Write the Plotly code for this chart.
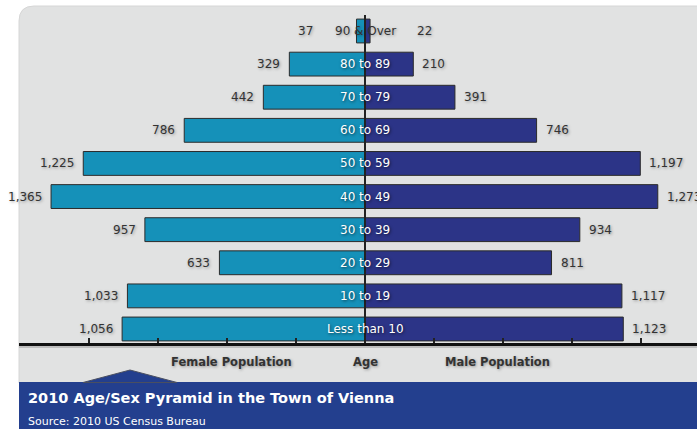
import plotly.graph_objects as go

# ---- data ----
age_groups = ["Less than 10", "10 to 19", "20 to 29", "30 to 39", "40 to 49",
              "50 to 59", "60 to 69", "70 to 79", "80 to 89", "90 & Over"]
female_pop = [1056, 1033, 633, 957, 1365, 1225, 786, 442, 329, 37]
male_pop = [1123, 1117, 811, 934, 1273, 1197, 746, 391, 210, 22]
tick_values = [-1200, -900, -600, -300, 300, 600, 900, 1200]

title_text = "2010 Age/Sex Pyramid in the Town of Vienna"
source_text = "Source: 2010 US Census Bureau"

W, H = 697, 429
FONT = "DejaVu Sans"
FEMALE_COLOR = "#1591B9"
MALE_COLOR = "#2C3487"
BAND_COLOR = "#233F8E"
PANEL_COLOR = "#E1E2E2"
TEXT_COLOR = "#333333"
SHADOW = "1px 1px 3px rgba(0,0,0,0.35)"
MIN_LABEL_OFFSET = 185  # value labels never sit closer to the centre than this (people)


def px(x):
    return x / W


def py(y):
    return 1 - y / H


fig = go.Figure()
fig.add_trace(go.Bar(
    y=age_groups, x=[-v for v in female_pop], orientation="h",
    marker=dict(color=FEMALE_COLOR, line=dict(color="#2b2b2b", width=1)),
    width=0.72, hoverinfo="skip", name="Female Population"))
fig.add_trace(go.Bar(
    y=age_groups, x=male_pop, orientation="h",
    marker=dict(color=MALE_COLOR, line=dict(color="#2b2b2b", width=1)),
    width=0.72, hoverinfo="skip", name="Male Population"))

annotations = []
for g, f, m in zip(age_groups, female_pop, male_pop):
    annotations.append(dict(x=-max(f, MIN_LABEL_OFFSET), y=g, xref="x", yref="y", text=f"{f:,}",
                            showarrow=False, xanchor="right", xshift=-7,
                            font=dict(family=FONT, size=12, color=TEXT_COLOR, shadow=SHADOW)))
    annotations.append(dict(x=max(m, MIN_LABEL_OFFSET), y=g, xref="x", yref="y", text=f"{m:,}",
                            showarrow=False, xanchor="left", xshift=7,
                            font=dict(family=FONT, size=12, color=TEXT_COLOR, shadow=SHADOW)))
    dark = g == "90 & Over"
    annotations.append(dict(x=0, y=g, xref="x", yref="y", text=g, showarrow=False,
                            xanchor="center",
                            font=dict(family=FONT, size=12,
                                      color=TEXT_COLOR if dark else "white",
                                      shadow=SHADOW if dark else "1px 1px 3px rgba(0,0,0,0.6)")))

# axis titles
for x, t in [(232, "Female Population"), (365, "Age"), (497, "Male Population")]:
    annotations.append(dict(x=px(x), y=py(362), xref="paper", yref="paper", text=f"<b>{t}</b>",
                            showarrow=False, xanchor="center", yanchor="middle",
                            font=dict(family=FONT, size=11.5, color=TEXT_COLOR, shadow=SHADOW)))

annotations.append(dict(x=px(26), y=py(398), xref="paper", yref="paper", text=f"<b>{title_text}</b>",
                        showarrow=False, xanchor="left", yanchor="middle",
                        font=dict(family=FONT, size=14.5, color="white")))
annotations.append(dict(x=px(26), y=py(421), xref="paper", yref="paper", text=source_text,
                        showarrow=False, xanchor="left", yanchor="middle",
                        font=dict(family=FONT, size=11, color="white")))

# panel with rounded top-left corner
r = 15
x0, x1, y0, y1 = 19, 700, 6, 383
panel_path = (f"M {px(x0)},{py(y1)} L {px(x0)},{py(y0 + r)} "
              f"Q {px(x0)},{py(y0)} {px(x0 + r)},{py(y0)} "
              f"L {px(x1)},{py(y0)} L {px(x1)},{py(y1)} Z")
shapes = [
    dict(type="path", path=panel_path, xref="paper", yref="paper",
         fillcolor=PANEL_COLOR, line=dict(color="#d6d6d6", width=1), layer="below"),
    dict(type="rect", xref="paper", yref="paper", x0=px(19), x1=1, y0=0, y1=py(382),
         fillcolor=BAND_COLOR, line=dict(width=0), layer="below"),
    dict(type="path", xref="paper", yref="paper",
         path=f"M {px(83)},{py(382.5)} L {px(130)},{py(370)} L {px(177)},{py(382.5)} Z",
         fillcolor=BAND_COLOR, line=dict(color="#4a4f60", width=1), layer="below"),
    dict(type="line", xref="paper", yref="paper", x0=px(19), x1=1, y0=py(347), y1=py(347),
         line=dict(color="#bdbdbd", width=2), layer="below"),
    dict(type="line", xref="x", yref="paper", x0=0, x1=0, y0=py(343), y1=py(15),
         line=dict(color="#222222", width=2), layer="above"),
]

scale = 0.23  # px per person
fig.update_layout(
    width=W, height=H, margin=dict(l=0, r=0, t=0, b=0),
    paper_bgcolor="white", plot_bgcolor="rgba(0,0,0,0)",
    barmode="overlay", showlegend=False,
    shapes=shapes, annotations=annotations,
    xaxis=dict(domain=[px(19), 1], range=[-(365 - 19) / scale, (W - 365) / scale],
               showgrid=False, zeroline=False, showline=True, linecolor="#111111",
               linewidth=3, ticks="inside", ticklen=5, tickwidth=1.5, tickcolor="#222222",
               tickvals=tick_values, showticklabels=False, fixedrange=True),
    yaxis=dict(domain=[py(343), py(6)], type="category", categoryorder="array",
               categoryarray=age_groups, range=[-0.423, 9.755],
               showgrid=False, zeroline=False, showline=False, showticklabels=False,
               ticks="", fixedrange=True),
)

fig.write_html("out.html", config={"displayModeBar": False},
               post_script="document.body.style.margin='0';document.body.style.overflow='hidden';")
